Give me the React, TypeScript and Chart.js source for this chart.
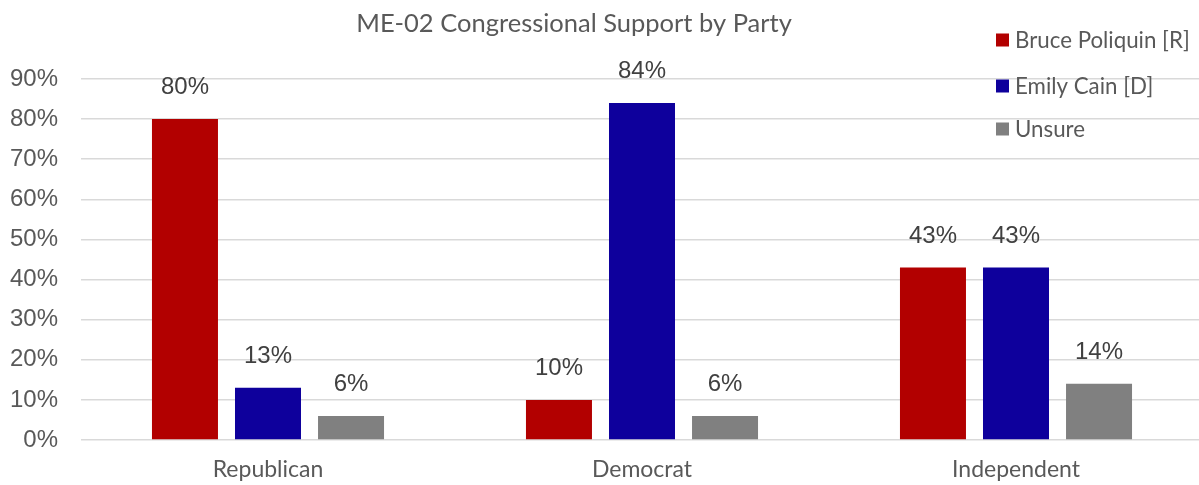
import React, { useEffect, useRef } from "react";
import { Chart, registerables } from "chart.js";

Chart.register(...registerables);

const TITLE = "ME-02 Congressional Support by Party";
const categories = ["Republican", "Democrat", "Independent"];
const seriesNames = ["Bruce Poliquin [R]", "Emily Cain [D]", "Unsure"];
const poliquin = [80, 10, 43];
const cain = [13, 84, 43];
const unsure = [6, 6, 14];
const seriesColors = ["#B20000", "#0E009C", "#808080"];
const yTicks = [0, 10, 20, 30, 40, 50, 60, 70, 80, 90];

const CAL = "Lato, 'Open Sans', sans-serif";
const ARI = "'Liberation Sans', Arial, sans-serif";

const overlayPlugin = {
  id: "overlay",
  afterDatasetsDraw(chart: any) {
    const ctx = chart.ctx;
    ctx.save();
    // data labels
    ctx.font = `24px ${ARI}`;
    ctx.fillStyle = "#404040";
    ctx.textAlign = "center";
    ctx.textBaseline = "alphabetic";
    chart.data.datasets.forEach((ds: any, i: number) => {
      const meta = chart.getDatasetMeta(i);
      meta.data.forEach((bar: any, j: number) => {
        ctx.fillText(ds.data[j] + "%", bar.x, bar.y - 25);
      });
    });
    // title
    ctx.font = `25.5px ${CAL}`;
    ctx.fillStyle = "#595959";
    ctx.fillText(TITLE, 574, 32);
    // legend
    ctx.textAlign = "left";
    ctx.font = `22.3px ${CAL}`;
    const ys = [40, 86, 129];
    chart.data.datasets.forEach((ds: any, i: number) => {
      ctx.fillStyle = ds.backgroundColor;
      ctx.fillRect(996, ys[i] - 6.5, 13, 13);
      ctx.fillStyle = "#595959";
      ctx.fillText(ds.label, 1015, ys[i] + 8);
    });
    ctx.restore();
  },
};

export default function App() {
  const ref = useRef<HTMLCanvasElement>(null);
  useEffect(() => {
    if (!ref.current) return;
    const values = [poliquin, cain, unsure];
    const chart = new Chart(ref.current, {
      type: "bar",
      data: {
        labels: categories,
        datasets: seriesNames.map((n, i) => ({
          label: n,
          data: values[i],
          backgroundColor: seriesColors[i],
          categoryPercentage: 0.666,
          barPercentage: 0.795,
        })),
      },
      options: {
        responsive: false,
        animation: false,
        layout: { padding: { top: 79, right: 2, left: 0, bottom: 0 } },
        plugins: {
          legend: { display: false },
          title: { display: false },
          tooltip: { enabled: false },
        },
        scales: {
          x: {
            grid: { display: false, drawTicks: false },
            border: { display: false },
            ticks: { color: "#595959", font: { family: CAL, size: 23 }, padding: 16 },
            afterFit: (s: any) => { s.height = 45; },
          },
          y: {
            min: 0,
            max: 90,
            afterBuildTicks: (s: any) => { s.ticks = yTicks.map((v) => ({ value: v })); },
            grid: { color: "#d9d9d9", lineWidth: 1.5, drawTicks: false },
            border: { display: false },
            ticks: {
              color: "#595959",
              font: { family: ARI, size: 24 },
              padding: 23,
              callback: (v: any) => v + "%",
            },
            afterFit: (s: any) => { s.width = 81; },
          },
        },
      },
      plugins: [overlayPlugin],
    });
    return () => chart.destroy();
  }, []);
  return (
    <div style={{ position: "fixed", left: 0, top: 0, width: 1199, height: 485, overflow: "hidden", background: "#fff" }}>
      <canvas ref={ref} width={1205} height={485} style={{ display: "block" }} />
    </div>
  );
}
